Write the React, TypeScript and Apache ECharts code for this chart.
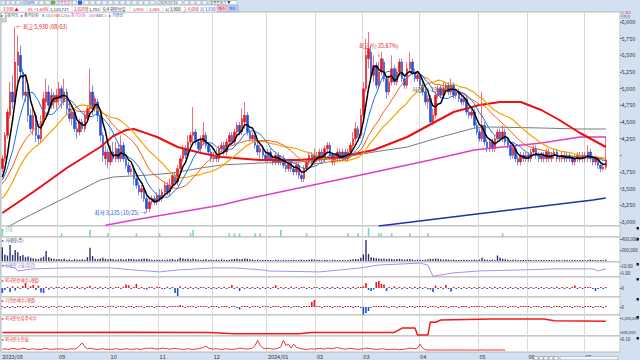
import React, { useEffect, useRef } from "react";
import * as echarts from "echarts";

const FF = "'Noto Sans CJK KR', 'Noto Sans', sans-serif";

// ---- categories ----
const monthLabels = ["2023/08", "09", "10", "11", "12", "2024/01", "02", "03", "04", "05", "06", "07"];
const monthCounts = [22, 20, 19, 21, 21, 19, 18, 22, 23, 19, 22, 9];
const trailingEmpty = 5;

// ---- price axis ticks ----
const mainTicks = [3000, 3250, 3500, 3750, 4000, 4250, 4500, 4750, 5000, 5250, 5500, 5750, 6000];

// closes before the visible window (only used to seed the moving averages)
const priorCloses = [2800, 2850, 2820, 2880, 2900, 2950, 2920, 2980, 3000, 3050, 3300, 3350, 3400, 3450, 3500, 3550, 3600, 3620, 3650, 3700, 3550, 3600, 3580, 3620, 3600, 3650, 3580, 3600, 3570];

// ---- OHLC [open, close, low, high] by month ----
const ohlcAug = [[3800,3950,3750,4000],[3950,4300,3900,4350],[4300,4650,4250,4700],[4600,4950,4550,5100],[4950,4800,4700,5200],[4800,5400,4750,5930],[5350,5550,5100,5800],[5500,5250,5150,5650],[5250,4900,4850,5300],[4900,4950,4800,5200],[4950,4600,4500,5050],[4600,4400,4350,4700],[4400,4600,4300,4750],[4600,4300,4200,4650],[4300,4250,4150,4450],[4250,4500,4200,4600],[4500,4850,4450,4950],[4800,4950,4700,5150],[4950,4750,4650,5050],[4750,4900,4700,5000],[4900,4800,4700,4950],[4800,4900,4700,5000]];
const ohlcSep = [[4850,5000,4750,5100],[5000,4850,4700,5050],[4800,4950,4750,5150],[4950,4700,4600,5000],[4700,4550,4500,4800],[4550,4650,4450,4700],[4650,4400,4350,4700],[4400,4350,4250,4500],[4350,4500,4300,4550],[4500,4400,4350,4550],[4400,4600,4350,4650],[4550,4700,4500,4750],[4700,4950,4650,5300],[4950,4700,4600,5050],[4700,4850,4650,4900],[4800,4600,4500,4850],[4600,4300,4200,4650],[4300,4000,3900,4350],[3950,4050,3850,4150],[4050,3900,3800,4100]];
const ohlcOct = [[3900,4050,3850,4150],[4050,3950,3900,4200],[3950,4100,3900,4200],[4100,3950,3900,4150],[3950,4150,3900,4300],[4150,3950,3900,4200],[3950,3850,3800,4000],[3850,3750,3700,3900],[3750,3800,3700,3850],[3800,3650,3550,3850],[3650,3550,3500,3700],[3550,3450,3400,3600],[3450,3500,3350,3550],[3500,3350,3300,3550],[3350,3200,3135,3400],[3200,3300,3150,3350],[3300,3350,3250,3400],[3350,3300,3250,3400],[3300,3400,3250,3450]];
const ohlcNov = [[3400,3350,3300,3500],[3350,3450,3300,3500],[3450,3550,3400,3600],[3550,3450,3400,3600],[3450,3550,3400,3650],[3550,3700,3500,3750],[3700,3600,3550,3750],[3600,3800,3550,3850],[3800,3950,3750,4000],[3950,4100,3900,4150],[4100,4000,3950,4150],[4000,4200,3950,4300],[4200,4300,4150,4350],[4300,4350,4200,4725],[4350,4200,4150,4400],[4200,4100,4050,4250],[4100,4250,4050,4300],[4200,4300,4150,4500],[4300,4150,4100,4350],[4150,4050,4000,4200],[4050,3950,3900,4100]];
const ohlcDec = [[3950,4000,3900,4050],[4000,3950,3900,4100],[3950,4100,3900,4150],[4100,4150,4050,4200],[4150,4050,4000,4200],[4050,4200,4000,4250],[4200,4300,4150,4350],[4300,4200,4150,4350],[4200,4350,4150,4400],[4350,4450,4300,4500],[4450,4350,4300,4500],[4350,4550,4300,4700],[4500,4600,4400,4800],[4600,4350,4300,4650],[4350,4250,4200,4400],[4250,4300,4200,4350],[4300,4150,4100,4350],[4150,4050,4000,4200],[4050,4100,3950,4150],[4100,4000,3950,4150],[4000,3950,3900,4050]];
const ohlcJan = [[3950,4050,3900,4100],[4050,3950,3900,4100],[3950,3900,3850,4000],[3900,4000,3850,4050],[4000,3900,3850,4050],[3900,3950,3850,4000],[3950,3850,3800,4000],[3850,3800,3750,3900],[3800,3900,3750,3950],[3900,3800,3750,3950],[3800,3750,3700,3850],[3750,3850,3700,3900],[3850,3700,3650,3900],[3700,3650,3600,3750],[3650,3800,3600,3850],[3800,3900,3750,3950],[3900,4000,3850,4050],[4000,3900,3850,4050],[3900,4000,3850,4100]];
const ohlcFeb = [[4000,3950,3900,4050],[3950,4050,3900,4100],[4050,3950,3900,4100],[3950,4100,3900,4150],[4100,4150,4050,4200],[4150,4000,3950,4200],[4000,3900,3850,4050],[3900,3950,3850,4000],[3950,4050,3900,4100],[4050,3950,3900,4100],[3950,4050,3900,4100],[4050,3950,3900,4100],[3950,4050,3900,4100],[4050,4150,4000,4200],[4150,4250,4100,4350],[4250,4400,4200,4500],[4400,4300,4250,4450],[4300,4600,4250,4700]];
const ohlcMar = [[4600,5000,4550,5100],[5000,5500,4950,5750],[5450,5600,5300,5850],[5550,5200,5100,5650],[5200,5350,5100,5500],[5350,5050,5000,5400],[5050,5250,5000,5400],[5250,5450,5200,5550],[5400,5150,5100,5450],[5150,4950,4850,5200],[4950,5100,4900,5200],[5100,5300,5050,5500],[5300,5100,5050,5350],[5100,5250,5050,5300],[5250,5400,5200,5450],[5400,5150,5100,5450],[5150,5050,5000,5200],[5050,5300,5000,5400],[5300,5400,5250,5550],[5400,5250,5200,5450],[5250,5150,5100,5300],[5150,5200,5100,5250]];
const ohlcApr = [[5200,5050,5000,5250],[5050,4950,4900,5100],[4950,4800,4750,5000],[4800,4850,4700,4900],[4850,4500,4450,4900],[4500,4600,4450,4700],[4600,4900,4550,4950],[4900,5000,4850,5050],[5000,4900,4850,5050],[4900,5000,4850,5100],[5000,5050,4950,5100],[5050,4950,4900,5100],[4950,5050,4900,5150],[5050,4900,4850,5100],[4900,4950,4850,5000],[4950,4850,4800,5000],[4850,4800,4750,4900],[4800,4850,4750,4900],[4850,4650,4600,4900],[4650,4600,4550,4700],[4600,4650,4550,4700],[4650,4450,4400,4700],[4450,4350,4300,4500]];
const ohlcMay = [[4350,4250,4200,4400],[4250,4450,4200,4950],[4450,4200,4150,4500],[4200,4100,4050,4250],[4100,4200,4050,4250],[4200,4100,4050,4250],[4100,4250,4050,4300],[4250,4350,4200,4400],[4350,4250,4200,4400],[4250,4350,4200,4450],[4350,4200,4150,4400],[4200,4150,4100,4250],[4150,4000,3950,4200],[4000,4100,3950,4150],[4100,3950,3900,4150],[3950,3900,3850,4000],[3900,4000,3850,4050],[4000,3950,3900,4050],[3950,4000,3900,4050]];
const ohlcJun = [[4000,3950,3900,4050],[3950,4050,3900,4100],[4050,4100,4000,4150],[4100,4000,3950,4150],[4000,3950,3900,4050],[3950,4000,3900,4050],[4000,3950,3900,4050],[3950,4050,3900,4100],[4050,3950,3900,4100],[3950,4000,3900,4050],[4000,4050,3950,4100],[4050,3950,3900,4100],[3950,3950,3900,4000],[3950,4000,3900,4050],[4000,3950,3900,4050],[3950,4000,3900,4050],[4000,3950,3900,4050],[3950,3900,3850,4000],[3900,3950,3850,4000],[3950,4000,3900,4050],[4000,3950,3900,4050],[3950,4000,3900,4050]];
const ohlcJul = [[4000,3950,3900,4050],[3950,4050,3900,4150],[4050,3950,3900,4100],[3950,3900,3850,4000],[3900,3950,3850,4000],[3950,3850,3800,3950],[3850,3800,3750,3900],[3800,3820,3770,3880],[3820,3930,3780,4280]];

// ---- slow moving averages: [barIndex, price] ----
const ma60Pts = [[0,3135],[12,3450],[25,3810],[38,4125],[43,4290],[48,4380],[51,4395],[56,4330],[60,4275],[68,4125],[77,4035],[85,3975],[100,3930],[115,3930],[131,3975],[144,4080],[157,4275],[167,4485],[175,4650],[185,4755],[193,4800],[201,4800],[209,4680],[216,4530],[224,4335],[234,4125]];
const ma120Pts = [[0,2880],[7,3030],[25,3375],[38,3630],[43,3675],[57,3705],[66,3735],[77,3810],[85,3855],[100,3885],[115,3900],[131,3960],[144,4050],[157,4125],[170,4275],[183,4410],[189,4425],[209,4410],[224,4395],[234,4395]];
const ma240Pts = [[40,2950],[51,3030],[85,3255],[93,3330],[115,3510],[139,3705],[166,3930],[183,4080],[209,4185],[224,4275],[234,4275]];
const ma480Pts = [[146,2940],[184,3120],[229,3330],[234,3360]];

// ---- signal bars [barIndex, height] ----
const signalPts = [[0,2],[23,1],[34,2],[41,1],[52,1],[61,1],[73,1],[74,2],[88,1],[90,1],[92,1],[98,1],[100,1],[108,2],[118,1],[134,1],[138,1],[142,2.5],[146,1],[147,1],[151,1],[158,1],[165,1],[194,1]];

// ---- volume (thousand shares) ----
const volume = [
  250,120,100,290,110,200,160,90,110,70,80,60,50,40,35,60,80,180,70,50,40,30,
  35,30,40,25,30,20,35,25,20,30,25,70,240,90,40,30,45,60,40,30,
  40,30,25,30,35,25,30,40,35,30,25,30,35,45,40,30,25,20,25,
  20,25,20,25,30,35,25,30,60,45,35,40,30,45,30,25,20,25,30,20,25,
  20,25,20,30,25,20,25,30,35,40,30,35,45,40,30,25,20,25,20,18,20,
  20,18,15,20,18,15,20,18,15,20,18,15,20,25,18,20,25,30,25,
  20,18,15,20,18,15,20,18,15,20,18,15,20,25,30,35,30,60,
  120,380,130,70,60,50,45,40,45,35,40,35,30,35,40,30,25,30,35,25,20,25,
  25,20,25,30,40,35,45,40,30,25,30,25,20,25,20,18,20,25,20,18,20,25,20,
  25,60,30,25,20,25,20,100,60,40,30,25,20,25,20,18,20,18,20,
  18,20,15,18,15,20,18,15,20,18,15,20,18,15,20,18,15,20,18,15,20,18,
  15,20,25,18,15,20,18,15,22,
];
const volumeMarker = 98;

// ---- credit balance ratio (%) [barIndex, value] ----
const creditPts = [[0,10.7],[5,8.6],[6,6.4],[12,7.9],[25,8.6],[42,8.6],[51,7.1],[61,5.7],[68,7.1],[82,8.6],[90,8.6],[101,7.1],[103,6.4],[123,5.7],[139,8.6],[146,10.7],[162,12.1],[165,10.7],[167,2.5],[175,5.0],[185,6.4],[201,7.1],[214,7.9],[229,7.9],[231,6.4],[234,7.9]];

// ---- foreign net buying (thousand shares) ----
const foreignNet = [
  -25,-10,5,-20,8,-12,6,-5,10,25,-6,8,15,-10,12,-22,-25,5,-8,4,-3,6,
  4,-3,6,-2,5,3,-4,8,-3,5,-6,4,10,-5,3,-4,6,-3,4,-2,
  3,-2,5,4,-3,6,18,14,-4,5,20,-3,6,-4,-8,5,3,-5,6,
  4,-3,-5,6,-4,3,-25,-40,8,-4,5,-3,6,-5,4,-6,3,5,-4,3,-5,
  4,-3,5,-4,6,-5,3,15,-3,4,-15,5,-4,6,-3,5,-4,3,-6,4,-3,
  3,-4,5,14,-4,3,-5,4,-3,6,-4,3,-5,4,5,-3,4,-4,3,
  5,-3,4,-5,3,-4,6,-3,5,-4,3,-5,4,-3,6,-5,4,5,
  8,25,-10,-15,-8,30,35,20,18,-15,5,-6,8,-5,4,-6,3,-4,5,-3,6,-4,
  4,-5,3,-6,-8,-20,12,-5,4,-6,15,-4,-18,5,-4,3,-5,4,-3,5,-4,3,-5,
  5,-4,3,-5,4,-3,6,-4,3,-5,4,-3,5,-4,3,-6,4,-3,5,
  -4,3,-5,4,-3,5,-4,3,-5,4,-3,6,-4,3,-5,4,-3,5,12,-4,3,-5,
  4,4,3,-4,-15,-3,4,-3,3,
];

// ---- institutional net buying (thousand shares) ----
const instNet = [
  2,-1,1,-2,0,-1,1,0,-1,2,-1,0,1,-2,0,1,-1,0,-2,1,0,-1,
  0,1,-1,0,2,-1,0,0,1,-1,0,-2,1,0,-1,0,1,0,-1,0,
  1,0,-1,0,1,0,-1,2,0,-1,0,1,0,-1,0,1,0,-1,0,
  0,1,0,-1,0,1,0,1,10,0,-1,0,1,0,-1,0,0,1,0,-1,0,
  1,0,-1,0,1,0,-1,0,1,-1,-12,0,1,0,-1,0,1,0,-1,0,1,
  0,-1,0,1,0,-1,0,1,0,-1,0,1,0,-1,0,1,0,25,35,
  1,0,-1,0,1,0,-1,0,1,0,-1,0,1,0,-1,0,1,-2,
  -38,-30,-20,-5,2,3,1,2,6,1,-1,0,1,-1,0,1,0,-1,1,0,-1,0,
  0,1,0,-1,0,1,0,-1,0,1,0,-1,0,1,0,-1,0,1,0,-1,0,1,0,
  1,0,-1,2,3,1,0,-1,0,1,0,-1,0,1,0,-1,0,1,0,
  0,-1,0,1,0,-1,0,1,0,-1,0,1,0,-1,0,1,0,-1,0,1,0,-1,
  0,1,0,-1,0,1,0,-1,0,
];

// ---- foreign holdings (thousand shares) [barIndex, value] ----
const holdingPts = [[0,485],[50,490],[80,480],[90,440],[115,440],[120,485],[152,485],[155,640],[160,645],[161,395],[165,395],[166,860],[168,850],[170,930],[190,965],[210,965],[214,900],[234,880]];

// ---- foreign exhaustion ratio ----
const exhaustRatio = [
  .02,.025,.02,.022,.028,.025,.02,.022,.03,.025,.02,.022,.025,.02,.022,.02,.025,.028,.022,.02,.022,.025,
  .022,.025,.022,.02,.022,.025,.022,.03,.05,.07,.04,.025,.03,.025,.022,.02,.022,.025,.022,.02,
  .02,.022,.025,.022,.02,.022,.025,.022,.02,.022,.025,.022,.02,.025,.03,.028,.03,.025,.022,
  .025,.03,.028,.025,.022,.025,.028,.025,.022,.02,.022,.025,.022,.02,.022,.025,.03,.035,.045,.03,.025,
  .022,.025,.022,.02,.022,.025,.022,.02,.022,.025,.03,.028,.025,.022,.025,.03,.05,.09,.05,.03,.025,
  .03,.025,.022,.025,.03,.04,.09,.05,.06,.03,.06,.035,.03,.025,.022,.02,.022,.025,.022,
  .025,.028,.025,.022,.03,.028,.025,.03,.035,.028,.025,.022,.025,.028,.025,.022,.02,.022,
  .025,.03,.028,.025,.022,.02,.022,.025,.022,.02,.018,.02,.022,.02,.018,.02,.022,.025,.03,.028,.025,.03,
  .06,.03,.018,.015,.015,.016,.015,.015,.016,.015,.015,.015,.016,.015,.015,.015,.016,.015,.015,.015,.016,.015,.015,
  .015,.016,.015,.015,.015,.016,.015,.015,.015,.016,.015,
];

const RED = "#e8141c";
const BLUE = "#1f4fd6";

function buildOption() {
  const categories: string[] = [];
  const monthStart = new Set<number>();
  monthLabels.forEach((m, mi) => {
    for (let k = 0; k < monthCounts[mi]; k++) {
      if (k === 0) monthStart.add(categories.length);
      categories.push(`${m}|${k + 1}`);
    }
  });
  for (let k = 0; k < trailingEmpty; k++) categories.push(`pad|${k}`);

  const ohlc = [...ohlcAug, ...ohlcSep, ...ohlcOct, ...ohlcNov, ...ohlcDec, ...ohlcJan, ...ohlcFeb, ...ohlcMar, ...ohlcApr, ...ohlcMay, ...ohlcJun, ...ohlcJul];
  const N = ohlc.length;
  const closes = ohlc.map((d) => d[1]);
  const all = priorCloses.concat(closes);
  const ma = (p: number) =>
    closes.map((_, i) => {
      const end = i + priorCloses.length;
      let s = 0;
      for (let k = end - p + 1; k <= end; k++) s += all[k];
      return Math.round(s / p);
    });
  const fromPairs = (pairs: number[][]) => {
    const a: (number | null)[] = new Array(N).fill(null);
    pairs.forEach(([i, v]) => (a[i] = v));
    return a;
  };
  const signed = (arr: number[]) =>
    arr.map((v) => ({ value: v, itemStyle: { color: v >= 0 ? RED : BLUE } }));

  const lastClose = closes[N - 1];
  const fmt = (v: number) => Math.round(v).toLocaleString("en-US");
  // the current-price box covers the nearest price label, as in the terminal
  const mainFmt = (v: number) => (Math.abs(v - lastClose) < 100 ? "" : fmt(v));

  const panels = [
    { top: 12, h: 214, min: 2940, max: 6150, ticks: mainTicks, f: mainFmt, fs: 5.5 },
    { top: 226, h: 11, min: 0, max: 3, ticks: [] as number[], f: fmt, fs: 4.5 },
    { top: 237, h: 25, min: -18, max: 436, ticks: [200, 400], f: (v: number) => fmt(v * 1000), fs: 4.5 },
    { top: 262, h: 15, min: 2, max: 12.9, ticks: [5, 10], f: (v: number) => v.toFixed(2), fs: 4.5 },
    { top: 277, h: 20, min: -45, max: 55, ticks: [0], f: () => "0", fs: 4.5 },
    { top: 297, h: 18, min: -40, max: 50, ticks: [0], f: () => "0", fs: 4.5 },
    { top: 315, h: 21, min: 357, max: 1107, ticks: [500, 1000], f: (v: number) => fmt(v * 1000), fs: 3.9 },
    { top: 336, h: 16, min: 0, max: 0.123, ticks: [0.1], f: (v: number) => v.toFixed(2), fs: 4.5 },
  ];

  const grid = panels.map((p) => ({
    left: 1, right: 20, top: p.top, height: p.h, show: true,
    backgroundColor: "#ffffff", borderColor: "#a9a9a9", borderWidth: 0.8,
    outerBoundsMode: "none",
  }));
  const xAxis = panels.map((_, gi) => ({
    type: "category", gridIndex: gi, data: categories, boundaryGap: true,
    axisLine: { show: false }, axisTick: { show: false },
    axisLabel: {
      show: gi === 7, interval: (i: number) => monthStart.has(i), hideOverlap: false,
      formatter: (v: string) => v.split("|")[0], align: "left",
      fontSize: 5.5, color: "#333", margin: 2, fontFamily: FF,
    },
    splitLine: { show: true, interval: (i: number) => monthStart.has(i), lineStyle: { color: "#d9d9d9", width: 1 } },
  }));
  const yAxis = panels.map((p, gi) => ({
    type: "value", gridIndex: gi, position: "right", min: p.min, max: p.max, scale: true,
    splitLine: { show: false }, axisLine: { show: false },
    axisTick: { show: p.ticks.length > 0, length: 1.5, customValues: p.ticks, lineStyle: { color: "#666" } },
    axisLabel: { show: p.ticks.length > 0, customValues: p.ticks, formatter: p.f, fontSize: p.fs, color: "#333", margin: 1.5, fontFamily: FF },
  }));

  const line = (name: string, data: any[], color: string, width: number, gi = 0, z = 3) => ({
    name, type: "line", xAxisIndex: gi, yAxisIndex: gi, data, showSymbol: false, symbol: "none",
    connectNulls: true, lineStyle: { color, width }, itemStyle: { color }, z, silent: true,
  });
  const mkLabel = (coord: any[], text: string, color: string, position: string) => ({
    coord, symbol: "circle", symbolSize: 0.1, itemStyle: { color: "rgba(0,0,0,0)" },
    label: { show: true, formatter: text, position, distance: 1, color, fontSize: 5.5, fontFamily: FF, lineHeight: 7.5 },
  });

  const series: any[] = [
    {
      name: "일봉", type: "candlestick", xAxisIndex: 0, yAxisIndex: 0, data: ohlc, barWidth: 2, z: 2,
      itemStyle: { color: RED, color0: BLUE, borderColor: RED, borderColor0: BLUE, borderWidth: 0.6 },
      markPoint: {
        silent: true,
        data: [
          mkLabel([categories[5], 5930], "← 최고 5,930 (08/03)", RED, "right"),
          mkLabel([categories[56], 3135], "최저 3,135 (10/25) →", BLUE, "left"),
          mkLabel([categories[146], 5450], "최고가(-35.67%)\n↓", RED, "top"),
          mkLabel([categories[166], 4800], "저항대(-19.8%)\n↓", "#555", "top"),
        ],
      },
      markLine: {
        silent: true, symbol: ["none", "none"], lineStyle: { opacity: 0 },
        label: { show: true, position: "end", distance: 0, formatter: fmt(lastClose), backgroundColor: "#e00b15", color: "#fff", fontSize: 5.5, padding: [1, 3, 1, 3], fontFamily: FF },
        data: [{ yAxis: lastClose }],
      },
    },
    line("MA480", fromPairs(ma480Pts), "#1f2fa8", 1.5),
    line("MA240", fromPairs(ma240Pts), "#e03cc8", 1.5),
    line("MA120", fromPairs(ma120Pts), "#7a7a7a", 1),
    line("MA60", fromPairs(ma60Pts), "#ea1010", 2),
    line("MA30", ma(30), "#f5a300", 1.2),
    line("MA20", ma(20), "#ff5a0a", 1),
    line("MA10", ma(10), "#1e6ee8", 1),
    line("MA5", ma(5), "#000000", 1.5, 0, 4),
    {
      name: "신호", type: "bar", xAxisIndex: 1, yAxisIndex: 1, data: fromPairs(signalPts),
      barWidth: 1.6, itemStyle: { color: "#7fd4b2" }, silent: true,
    },
    {
      name: "거래량", type: "bar", xAxisIndex: 2, yAxisIndex: 2, data: volume,
      barWidth: 1.4, itemStyle: { color: "#2c2f70" }, silent: true,
      markLine: {
        silent: true, symbol: ["none", "none"], lineStyle: { opacity: 0 },
        label: { show: true, position: "end", distance: 0, formatter: fmt(volumeMarker * 1000), backgroundColor: "#ff10e0", color: "#fff", fontSize: 4.5, padding: [0.5, 2, 0.5, 2], fontFamily: FF },
        data: [{ yAxis: volumeMarker }],
      },
    },
    line("신용잔고율", fromPairs(creditPts), "#a592e6", 1, 3),
    {
      name: "외국인", type: "bar", xAxisIndex: 4, yAxisIndex: 4, data: signed(foreignNet),
      barWidth: 1.6, barMinHeight: 1, silent: true,
    },
    {
      name: "기관", type: "bar", xAxisIndex: 5, yAxisIndex: 5, data: signed(instNet),
      barWidth: 1.6, barMinHeight: 1, silent: true,
    },
    line("외국인보유", fromPairs(holdingPts), "#f01a1a", 1.5, 6),
    line("소진율", exhaustRatio, "#f03232", 1, 7),
  ];

  // ---- decorations: toolbar, legend, panel titles ----
  const T = (x: number, y: number, text: string, fill: string, size = 4.2, extra: any = {}) => ({
    type: "text", x, y, z: 20, silent: true,
    style: { text, fill, fontSize: size, fontFamily: FF, verticalAlign: "middle", ...extra },
  });
  const R = (x: number, y: number, w: number, h: number, fill: string, stroke?: string) => ({
    type: "rect", z: 19, silent: true, shape: { x, y, width: w, height: h },
    style: { fill, stroke: stroke || null, lineWidth: 0.5 },
  });
  const g: any[] = [];
  // toolbar row 1
  [1, 6, 11, 16].forEach((x) => g.push(R(x, 0.5, 4, 4.2, "#eef2f8", "#8899aa")));
  g.push(R(22, 0.5, 16, 4.2, "#ffffff", "#7f9db9"), T(23, 2.7, "035890", "#1a3cc8", 3.6));
  g.push(R(39, 0.5, 5, 4.2, "#eef2f8", "#8899aa"), R(45, 0.5, 5, 4.2, "#eef2f8", "#8899aa"));
  g.push(R(51, 0.5, 4, 4.2, "#6fb04a"), R(56, 0.5, 20, 4.2, "#ffffff", "#7f9db9"), T(57, 2.7, "종목명검색", "#c03070", 3.5));
  g.push(R(78, 0.5, 4, 4.2, "#3060c0"));
  [84, 90, 96, 102, 108, 114, 120, 126, 132, 138, 144, 150].forEach((x) => g.push(R(x, 0.5, 5, 4.2, "#eef2f8", "#8899aa")));
  g.push(R(158, 0.5, 24, 4.2, "#ffffff", "#7f9db9"), T(159, 2.7, "2024/07/15", "#333", 3.6));
  [184, 190, 196, 202].forEach((x) => g.push(R(x, 0.5, 5, 4.2, "#eef2f8", "#8899aa")));
  g.push(R(209, 0.5, 28, 4.2, "#ffffff", "#7f9db9"), T(210, 2.7, "종목돋보기 ▼", "#333", 3.5));
  // toolbar row 2
  g.push(R(0, 5.3, 238, 6.6, "#ffffff", "#a0b4cc"));
  [26, 48, 72, 87, 101, 130, 147, 163, 181, 198, 215].forEach((x) =>
    g.push({ type: "line", z: 20, silent: true, shape: { x1: x, y1: 5.5, x2: x, y2: 11.7 }, style: { stroke: "#c0cad6", lineWidth: 0.5 } })
  );
  g.push(
    T(3, 8.7, "3,930 ▲", RED), T(28, 8.7, "65", RED), T(34, 8.7, "+1.68%", RED),
    T(50, 8.7, "1,120,727", "#222"), T(74, 8.7, "2,028억", RED), T(89, 8.7, "1,782", "#222"),
    T(103, 8.7, "6/4 외인보유", "#222"), T(133, 8.7, "3,950", RED), T(149, 8.7, "3,865", RED),
    T(165, 8.7, "시 3,900", "#222"), T(183, 8.7, "고 4,090", RED), T(200, 8.7, "저 3,830", BLUE)
  );
  g.push(R(217, 5.8, 10, 5.6, "#f7c6d6", "#d08090"), T(218.3, 8.7, "매수", "#c01040", 3.8));
  g.push(R(228, 5.8, 10, 5.6, "#c6d6f7", "#8090d0"), T(229.3, 8.7, "매도", "#1030c0", 3.8));
  // legend
  g.push(
    T(1, 15, "▸ 일봉차트", "#333", 4), T(21, 15, "▸ 종가단순", "#333", 4),
    T(42, 15, "5", "#000", 4), T(45.5, 15, "10", "#1e6ee8", 4), T(50.5, 15, "20", "#ff5a0a", 4),
    T(55.5, 15, "60", "#ea1010", 4), T(60.5, 15, "120", "#7a7a7a", 4),
    T(68, 15, "▸ 종가단순", "#e03cc8", 4), T(89, 15, "240", "#e03cc8", 4), T(96, 15, "480", "#1f2fa8", 4), T(103, 15, "15", "#f5a300", 4),
    T(109, 15, "▸ 거래량", BLUE, 4)
  );
  g.push(R(2, 18.5, 4.5, 3.5, "#d8d8d8", "#999"));
  g.push(T(621, 13.2, "LC 35.8", RED, 3), T(621, 16.8, "단위:원", BLUE, 3));
  // panel titles
  const titles = [
    ["▸ 신호", "#5aa888"], ["▸ 거래량(주)", "#2c2f70"], ["▸ 신용잔고율(일간)", "#7d6bcc"],
    ["▸ 외국인순매수(개별)", RED], ["▸ 기관순매수(개별)", RED], ["▸ 외국인보유주식수", RED], ["▸ 외국인소진율", RED],
  ];
  titles.forEach(([t, c], i) => g.push(T(2, panels[i + 1].top + 3.2, t, c, 4.3)));
  // small right-edge markers
  [227, 238, 263, 278, 298, 316, 337].forEach((y) => g.push(R(636.5, y, 2.5, 2.5, "#222")));
  // bottom-right scroll buttons
  [534, 539, 544, 549, 554].forEach((x) => g.push(R(x, 356.5, 4, 3.3, "#ffffff", "#667788")));
  g.push(R(560, 356.5, 58, 3.3, "#f4f6fa", "#8899aa"));

  return {
    animation: false,
    textStyle: { fontFamily: FF },
    grid, xAxis, yAxis, series, graphic: g,
  };
}

export default function App() {
  const ref = useRef<HTMLDivElement>(null);
  useEffect(() => {
    const chart = echarts.init(ref.current!, null, { renderer: "svg" });
    chart.setOption(buildOption() as any);
    return () => chart.dispose();
  }, []);
  return (
    <div style={{ position: "fixed", left: 0, top: 0, width: 640, height: 360, background: "#d3e0f0" }}>
      <div ref={ref} style={{ width: 640, height: 360 }} />
    </div>
  );
}
